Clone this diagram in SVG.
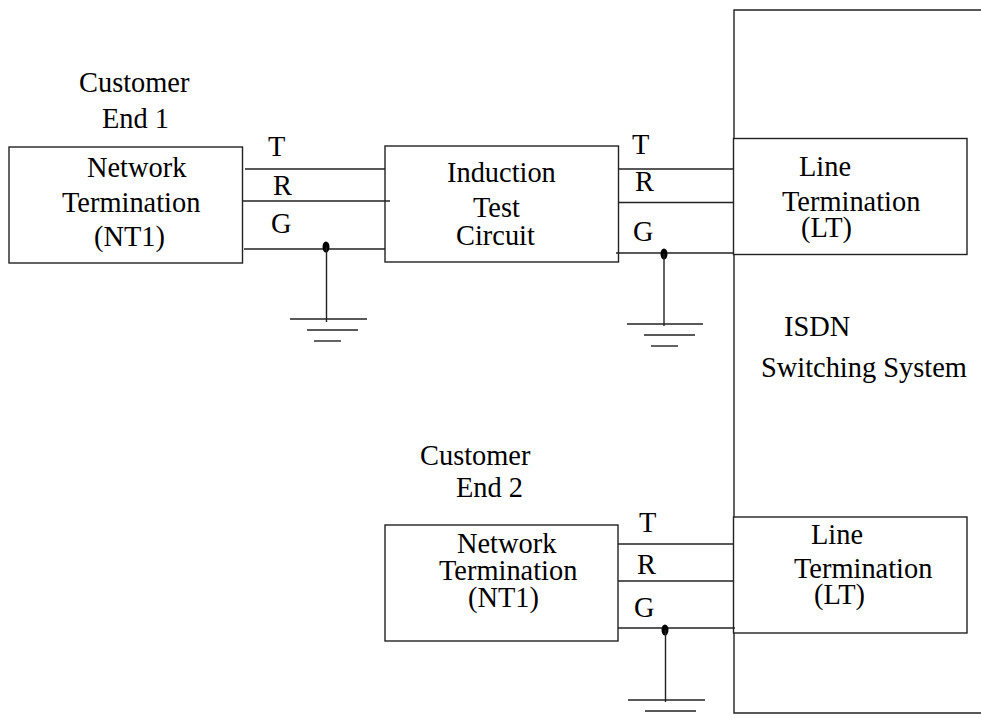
<svg xmlns="http://www.w3.org/2000/svg" width="981" height="719" viewBox="0 0 981 719">
<style>
rect{fill:#fff;stroke:#222;stroke-width:1.4}
line,path{fill:none;stroke:#222;stroke-width:1.4}
ellipse{fill:#000}
text{font-family:"Liberation Serif","Times New Roman",serif;font-size:28.4px;fill:#000}
</style>
<rect width="981" height="719" style="fill:#fff;stroke:none"/>
<g id="switching-system"><path d="M981 10H734V713H981"/>
<text x="784" y="336">ISDN</text><text x="761" y="377">Switching System</text></g>
<g id="nt1-top"><rect x="9" y="147" width="233.500" height="116"/>
<text x="87" y="177">Network</text><text x="62" y="212">Termination</text><text x="94" y="246">(NT1)</text></g>
<g id="customer-end-1"><text x="79" y="92">Customer</text><text x="102" y="128">End 1</text></g>
<g id="induction-test"><rect x="385" y="146" width="233.500" height="116"/>
<text x="447" y="182">Induction</text><text x="473" y="217">Test</text><text x="456" y="245">Circuit</text></g>
<g id="lt-top"><rect x="733.500" y="138.500" width="233.500" height="116"/>
<text x="799" y="176">Line</text><text x="782" y="211">Termination</text><text x="801" y="237">(LT)</text></g>
<g id="customer-end-2"><text x="420" y="465">Customer</text><text x="456" y="497">End 2</text></g>
<g id="nt1-bottom"><rect x="385" y="525" width="233" height="116"/>
<text x="457" y="553">Network</text><text x="439" y="580">Termination</text><text x="468" y="607">(NT1)</text></g>
<g id="lt-bottom"><rect x="733.500" y="517" width="233.500" height="116"/>
<text x="811" y="544">Line</text><text x="794" y="578">Termination</text><text x="814" y="604">(LT)</text></g>
<g id="connectors">
<line x1="245" y1="169" x2="385" y2="169"/><line x1="243" y1="201" x2="390" y2="201"/><line x1="244" y1="249" x2="385" y2="249"/>
<line x1="618" y1="169" x2="734" y2="169"/><line x1="618" y1="202.500" x2="734" y2="202.500"/><line x1="616" y1="253" x2="734" y2="253"/>
<line x1="618" y1="544" x2="734" y2="544"/><line x1="618" y1="581" x2="734" y2="581"/><line x1="618" y1="628" x2="735" y2="628"/>
<ellipse cx="326" cy="247" rx="3.500" ry="5.500"/><line x1="326.500" y1="247" x2="326.500" y2="322"/><line x1="290" y1="319" x2="367" y2="319"/><line x1="307" y1="330" x2="358" y2="330"/><line x1="314" y1="341" x2="341" y2="341"/>
<ellipse cx="664" cy="254" rx="3.500" ry="5.500"/><line x1="664" y1="254" x2="664" y2="326"/><line x1="627" y1="324" x2="703" y2="324"/><line x1="644" y1="335" x2="695" y2="335"/><line x1="651" y1="346" x2="678" y2="346"/>
<ellipse cx="665" cy="630" rx="3.500" ry="5.500"/><line x1="665.500" y1="630" x2="665.500" y2="702"/><line x1="628" y1="700" x2="705" y2="700"/><line x1="645" y1="711" x2="696" y2="711"/>
<text x="268" y="156">T</text><text x="273" y="195">R</text><text x="271" y="233">G</text>
<text x="632" y="154">T</text><text x="635" y="191">R</text><text x="633" y="241">G</text>
<text x="639" y="532">T</text><text x="637" y="574">R</text><text x="634" y="617">G</text>
</g>
</svg>
